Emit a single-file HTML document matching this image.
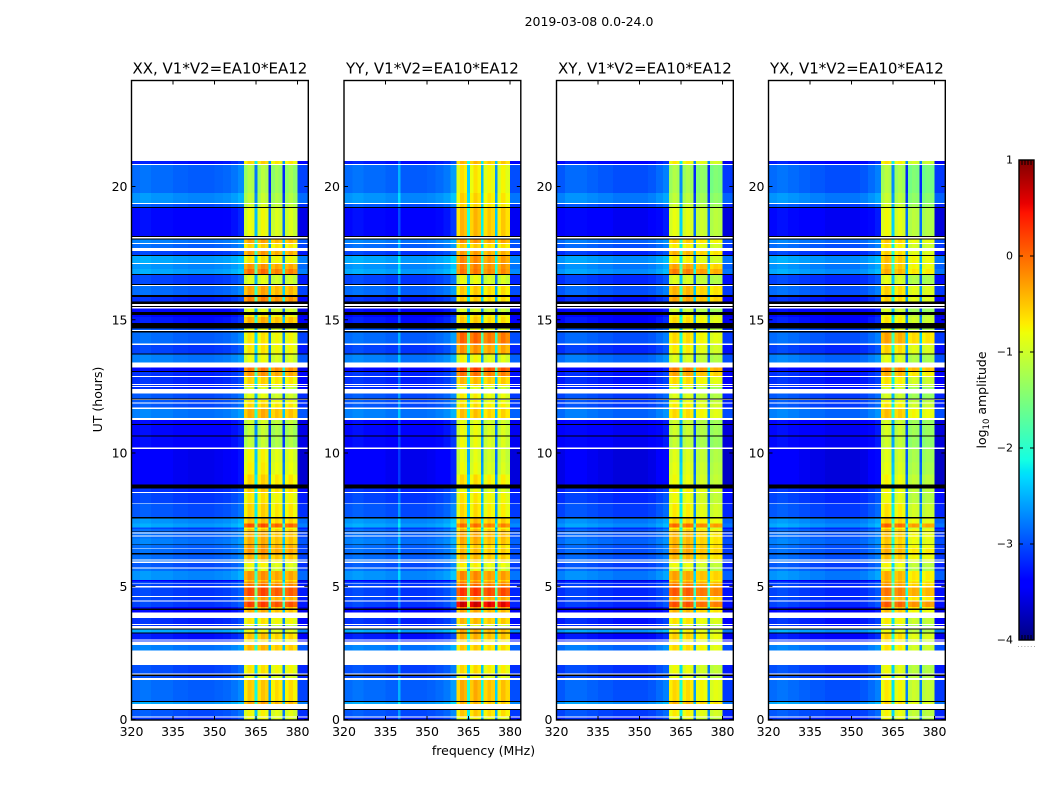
<!DOCTYPE html>
<html>
<head>
<meta charset="utf-8">
<title>2019-03-08 spectrogram</title>
<style>
html,body{margin:0;padding:0;background:#fff;}
svg{display:block;}
text{font-family:"DejaVu Sans","Liberation Sans",sans-serif;fill:#000;}
</style>
</head>
<body>
<svg id="fig" xmlns="http://www.w3.org/2000/svg" width="1050" height="800" viewBox="0 0 1050 800">
<defs><linearGradient id="jetGrad" x1="0" y1="1" x2="0" y2="0"></linearGradient></defs>
<text x="589" y="26" font-size="12.5" text-anchor="middle">2019-03-08 0.0-24.0</text>
<text x="483.5" y="755" font-size="12.5" text-anchor="middle">frequency (MHz)</text>
<text transform="translate(102,399.5) rotate(-90)" font-size="12.5" text-anchor="middle">UT (hours)</text>
<text transform="translate(986,400) rotate(-90)" font-size="12.5" text-anchor="middle">log<tspan dy="3" font-size="8.5">10</tspan><tspan dy="-3"> amplitude</tspan></text>
</svg>
<script>
// Axis ticks
const xTickLabels = [320, 335, 350, 365, 380];
const yTickLabels = [0, 5, 10, 15, 20];
const colorTickLabels = [-4, -3, -2, -1, 0, 1];
const panelTitles = ["XX, V1*V2=EA10*EA12", "YY, V1*V2=EA10*EA12", "XY, V1*V2=EA10*EA12", "YX, V1*V2=EA10*EA12"];

// Frequency channels (MHz edges)
const channelEdges = [320,323,327,331,335,339.5,340.5,345,350,353,356,358.5,360.7,
  362,363.3,364.5,365.5,366.8,368.2,369.5,370.5,371.8,373.2,374.5,375.5,376.8,378.4,380,384];

// Per-channel level offsets outside the band (12 channels below 360.7 MHz + 380-384 MHz)
const bgProfileXX = [.05,.1,.05,.05,0,0,-.03,-.03,0,.03,.1,.2,-.15];
const bgProfileYY = [.05,.1,.05,.05,0,.4,-.03,-.03,0,.05,.12,.3,-.1];
const bgProfileXY = [-.05,.05,.05,0,-.05,-.05,-.1,-.1,-.1,-.05,.05,.15,-.2];
const bgProfileYX = [.05,.1,.05,0,-.05,-.05,-.1,-.1,-.1,-.05,.05,.15,-.2];
const backgroundCalibration = -0.3;

// Per-channel level offsets inside the 360.7-380 MHz band (four sub-bands, three gaps)
const bandProfileXX = [-.15,.05,-.02,-1.6,-.1,.08,-.02,-2.0,-.2,-.05,-.15,-2.0,-.2,-.05,-.2];
const bandProfileYY = [-.15,.12,.02,-1.6,-.08,.12,0,-1.7,-.15,0,-.1,-1.9,-.2,0,-.15];
const bandProfileXY = [-.12,.03,-.05,-1.5,-.12,0,-.1,-2.0,-.25,-.15,-.2,-2.0,-.35,-.25,-.3];
const bandProfileYX = [-.08,.08,0,-1.5,-.12,0,-.1,-2.0,-.35,-.25,-.3,-2.0,-.4,-.3,-.35];

// Time rows: hour of each row's upper edge (rows run down to the next entry, last to 0)
const rowTopHour = [
  24,20.95,20.85,20.80,19.75,19.38,19.34,19.23,19.19,18.14,
  18.10,18.05,18.01,17.88,17.84,17.69,17.58,17.43,17.39,17.13,
  17.09,16.90,16.71,16.68,16.34,16.30,16.27,15.93,15.86,15.68,
  15.59,15.51,15.47,15.43,15.30,15.18,15.11,14.87,14.68,14.61,
  14.58,14.53,14.11,14.05,13.74,13.70,13.40,13.21,13.08,13.04,
  12.89,12.85,12.59,12.55,12.51,12.47,12.41,12.24,12.05,12.01,
  11.99,11.89,11.85,11.70,11.66,11.32,11.24,11.09,11.05,10.65,
  10.61,10.20,10.15,9.65,9.20,8.82,8.67,8.54,8.50,8.13,
  8.10,7.59,7.55,7.36,7.21,7.15,7.08,7.05,7.01,6.97,
  6.93,6.91,6.87,6.85,6.80,6.57,6.54,6.43,6.41,6.24,
  6.20,6.01,5.97,5.92,5.87,5.71,5.67,5.57,5.23,5.17,
  5.10,5.08,5.01,4.96,4.63,4.60,4.46,4.42,4.23,4.16,
  4.11,4.01,3.81,3.59,3.55,3.51,3.42,3.38,3.26,3.22,
  3.01,2.97,2.92,2.80,2.58,2.04,1.73,1.68,1.64,1.55,
  1.48,0.69,0.66,0.59,0.39,0.36,0.11,0.07];

// Background log10 amplitude per row: null = flagged (white), -9 = zero power (black)
const rowBackground = [
  null,-3.0,null,-2.6,-2.4,null,-2.7,-9,-3.1,-9,
  null,-9,-2.5,null,-2.6,null,-2.8,-9,-2.3,null,
  -2.4,-2.3,-9,-2.8,-9,null,-2.6,-9,-2.9,-9,
  null,-9,null,-3.1,-9,-3.1,-3.0,-9,-2.7,null,
  -9,-2.6,null,-2.8,-9,-2.5,null,-3.1,-9,-2.9,
  null,-2.9,null,-2.9,null,-2.9,null,-2.7,-9,null,
  -2.7,null,-2.7,null,-2.5,null,-3.1,-9,-3.1,-9,
  -3.1,null,-3.2,-3.2,-3.2,-9,-2.9,null,-2.8,null,
  -2.7,-9,-2.4,-2.3,-2.8,-2.6,-9,-2.6,null,-2.6,
  null,-2.6,null,-2.6,-2.5,-9,-2.6,null,-2.6,-9,
  -2.6,null,-2.6,null,-2.7,null,-2.6,-2.4,-3.2,-2.8,
  null,-2.8,null,-2.8,null,-2.8,null,-2.8,-3.1,-9,
  -3.1,null,-2.9,null,-2.9,null,-9,-2.3,-9,-3.0,
  null,-2.9,null,-2.5,null,-2.75,null,-9,-2.75,null,
  -2.6,-9,-2.3,null,-9,-2.7,null,-2.9];

// In-band log10 amplitude, one value per row that has data (flagged and zero rows skipped)
const bandXX = [
  -.6,-1.2,-1.1,-1,-.85,-.35,-.6,-.3,-.7,-.25,
  -.05,-.9,-.35,-.15,-.9,-.7,-.4,-.9,-.7,-.7,
  -.85,-.1,-.25,-.6,-.7,-1,-.9,-.7,-.6,-.4,
  -1,-1.1,-1.1,-.8,-.75,-.6,-.55,-.7,-.6,-.5,
  .1,-.7,-.5,-.4,-.4,-.4,-.4,-.4,-.3,-.25,
  -.4,-.6,-.8,-.9,-.25,-.5,-.2,-.1,.15,-.3,
  .2,-.4,-.4,-.7,-1,-.8,-.5,-.7,-.45,-.7,
  -.85,-.55,-.35,-.8,-.85];
const bandYY = [
  -.5,-.75,-.65,-.65,-.5,-.3,-.6,-.35,-.25,-.2,
  -.15,-.9,-.6,-.6,-1,-.7,-.6,-.9,-.05,-.3,
  -.85,.15,-.1,-.5,-.7,-1,-.8,-.8,-.7,-.55,
  -.95,-.9,-.9,-.95,-.9,-.7,-.9,-.75,-.7,-.5,
  -.1,-.7,-.5,-.4,-.4,-.4,-.4,-.45,-.6,-.5,
  -.5,-.6,-.8,-.9,-.25,-.5,-.2,-.1,.2,-.3,
  .6,-.2,-.4,-.5,-1,-.4,-.45,-.7,-.6,-.7,
  -.85,-.45,-.5,-.6,-.85];
const bandXY = [
  -.7,-1.2,-1.1,-1,-.85,-.5,-.7,-.4,-.7,-.3,
  -.1,-.9,-.4,-.3,-1,-.7,-.6,-.9,-.6,-.7,
  -.9,-.1,-.3,-.6,-.7,-1,-.9,-.8,-.7,-.6,
  -1,-1,-1.05,-.9,-.85,-.8,-.7,-.8,-.7,-.55,
  0,-.7,-.5,-.4,-.4,-.4,-.4,-.4,-.35,-.3,
  -.4,-.6,-.8,-.9,-.3,-.5,-.2,-.1,.1,-.3,
  .15,-.4,-.4,-.65,-1,-.7,-.55,-.7,-.6,-.8,
  -.85,-.6,-.4,-.7,-.85];
const bandYX = [
  -.7,-1.2,-1.1,-1,-.85,-.55,-.7,-.6,-.5,-.5,
  -.4,-.9,-.6,-.6,-1,-.8,-.7,-.9,-.35,-.6,
  -.9,-.15,-.4,-.7,-.7,-1,-1,-.8,-.7,-.5,
  -1,-1,-1.05,-.95,-.9,-.8,-.8,-.85,-.7,-.55,
  0,-.7,-.5,-.5,-.5,-.5,-.5,-.55,-.5,-.4,
  -.5,-.6,-.8,-.9,-.4,-.5,-.3,-.3,-.1,-.4,
  .05,-.4,-.5,-.75,-1,-.85,-.6,-.7,-.7,-.85,
  -.85,-.75,-.6,-.8,-.85];

const NS = 'http://www.w3.org/2000/svg';
const svg = document.getElementById('fig');
const panelLeft = [131.5, 344, 556.5, 768.5];
const panelWidth = 176.8;
const plotTop = 80.5, plotBottom = 720;
const cbarX = 1019, cbarW = 15, cbarTop = 160, cbarBottom = 640;

function xScale(mhz, p) { return panelLeft[p] + (mhz - 320) * 2.767; }
function yScale(hour) { return 719.5 - hour * 26.65; }
function cScale(v) { return cbarBottom - (v + 4) * (cbarBottom - cbarTop) / 5; }

function ramp(t, pts) {
  for (let i = 1; i < pts.length; i++) {
    if (t <= pts[i][0]) {
      const a = pts[i - 1], b = pts[i];
      return a[1] + (b[1] - a[1]) * (t - a[0]) / (b[0] - a[0]);
    }
  }
  return pts[pts.length - 1][1];
}
function jet(t) {
  t = Math.max(0, Math.min(1, t));
  const r = ramp(t, [[0,0],[.35,0],[.66,1],[.89,1],[1,.5]]);
  const g = ramp(t, [[0,0],[.125,0],[.375,1],[.64,1],[.91,0],[1,0]]);
  const b = ramp(t, [[0,.5],[.11,1],[.34,1],[.65,0],[1,0]]);
  return 'rgb(' + Math.round(r * 255) + ',' + Math.round(g * 255) + ',' + Math.round(b * 255) + ')';
}
function valueColor(v) { return jet((v + 4) / 5); }

function mk(tag, attrs, parent) {
  const el = document.createElementNS(NS, tag);
  for (const k in attrs) el.setAttribute(k, attrs[k]);
  (parent || svg).appendChild(el);
  return el;
}

const bgProfiles = [bgProfileXX, bgProfileYY, bgProfileXY, bgProfileYX];
const bandProfiles = [bandProfileXX, bandProfileYY, bandProfileXY, bandProfileYX];
const bandLevels = [bandXX, bandYY, bandXY, bandYX];
const BG_CHANNELS = 12;
const BAND_CHANNELS = 15;

for (let p = 0; p < 4; p++) {
  const group = mk('g', {'shape-rendering': 'crispEdges'});
  
  
  let dataIndex = 0;
  const xMin = xScale(320, p), xMax = panelLeft[p] + panelWidth;
  for (let r = 0; r < rowTopHour.length; r++) {
    const bg = rowBackground[r];
    const yTop = yScale(rowTopHour[r]);
    const yBot = r + 1 < rowTopHour.length ? yScale(rowTopHour[r + 1]) : plotBottom;
    if (bg === null) continue;
    if (bg === -9) {
      const zero = mk('rect', {x: xMin, y: yTop, width: xMax - xMin, height: yBot - yTop, fill: '#000'}, group);
      
      
      continue;
    }
    const band = bandLevels[p][dataIndex];
    dataIndex++;
    for (let c = 0; c + 1 < channelEdges.length; c++) {
      let v;
      if (c < BG_CHANNELS) v = bg + backgroundCalibration + bgProfiles[p][c];
      else if (c < BG_CHANNELS + BAND_CHANNELS) v = band + bandProfiles[p][c - BG_CHANNELS];
      else v = bg + backgroundCalibration + bgProfiles[p][BG_CHANNELS];
      const x0 = xScale(channelEdges[c], p), x1 = Math.min(xScale(channelEdges[c + 1], p), xMax);
      const cell = mk('rect', {x: x0, y: yTop, width: x1 - x0, height: yBot - yTop, fill: valueColor(v)}, group);
      
      
    }
  }

  // Frame
  const frame = mk('rect', {x: panelLeft[p], y: plotTop, width: panelWidth, height: plotBottom - plotTop, fill: 'none', stroke: '#000', 'stroke-width': 1.4});
  
  

  // Panel title
  const title = mk('text', {x: panelLeft[p] + panelWidth / 2, y: 73.5, 'font-size': 15, 'text-anchor': 'middle'});
  title.textContent = panelTitles[p];
  
  

  // X ticks
  xTickLabels.forEach(function (f) {
    const x = xScale(f, p);
    mk('path', {d: 'M' + x + ' ' + plotBottom + 'v-4M' + x + ' ' + plotTop + 'v4', stroke: '#000', 'stroke-width': 1, fill: 'none'});
    const t = mk('text', {x: x, y: 736, 'font-size': 12.5, 'text-anchor': 'middle'});
    t.textContent = f;
    
    
  });

  // Y ticks
  yTickLabels.forEach(function (h) {
    const y = yScale(h);
    const xr = panelLeft[p] + panelWidth;
    mk('path', {d: 'M' + panelLeft[p] + ' ' + y + 'h4M' + xr + ' ' + y + 'h-4', stroke: '#000', 'stroke-width': 1, fill: 'none'});
    const t = mk('text', {x: panelLeft[p] - 4, y: y + 4.5, 'font-size': 12.5, 'text-anchor': 'end'});
    t.textContent = h;
    
    
  });
}

// Colorbar
const grad = document.getElementById('jetGrad');
[0,.11,.125,.34,.35,.375,.64,.65,.66,.89,.91,1].forEach(function (t) {
  const s = document.createElementNS(NS, 'stop');
  s.setAttribute('offset', t);
  s.setAttribute('stop-color', jet(t));
  grad.appendChild(s);
});
const cbar = mk('rect', {x: cbarX, y: cbarTop, width: cbarW, height: cbarBottom - cbarTop, fill: 'url(#jetGrad)', stroke: '#000', 'stroke-width': 1.4});


colorTickLabels.forEach(function (v) {
  const y = cScale(v);
  mk('path', {d: 'M' + cbarX + ' ' + y + 'h4M' + (cbarX + cbarW) + ' ' + y + 'h-4', stroke: '#000', 'stroke-width': 1, fill: 'none'});
  const t = mk('text', {x: 1013, y: y + 3.5, 'font-size': 11, 'text-anchor': 'end'});
  t.textContent = v < 0 ? '\u2212' + Math.abs(v) : String(v);
  
  
});
for (let i = 1; i < 5; i++) {
  const mx = cbarX + i * cbarW / 5;
  mk('path', {d: 'M' + mx + ' ' + cbarTop + 'v5M' + mx + ' ' + cbarBottom + 'v-5', stroke: '#000', 'stroke-width': 1, fill: 'none'});
}
for (let i = 0; i < 6; i++) {
  mk('rect', {x: 1018 + i * 3.2, y: 646, width: 1, height: 1, fill: '#aaa'});
}
</script>
</body>
</html>
